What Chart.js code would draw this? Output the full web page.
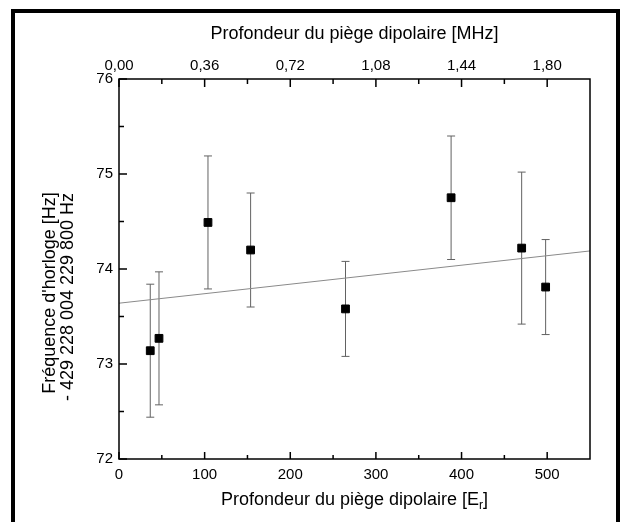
<!DOCTYPE html>
<html>
<head>
<meta charset="utf-8">
<script src="https://cdn.jsdelivr.net/npm/chart.js@4/dist/chart.umd.min.js"></script>
<style>
  html, body { margin: 0; padding: 0; background: #fff; }
  canvas { display: block; }
</style>
</head>
<body>
<canvas id="chart" width="623" height="522"></canvas>
<script>
// Measured points: trap depth [Er] vs clock frequency offset [Hz]
const depthEr = [36.5, 46.7, 103.9, 153.7, 264.5, 387.8, 470.2, 498.2];
const clockHz = [73.14, 73.27, 74.49, 74.20, 73.58, 74.75, 74.22, 73.81];
const clockErr = [0.70, 0.70, 0.70, 0.60, 0.50, 0.65, 0.80, 0.50];

// Linear fit end points
const fitDepth = [0, 550];
const fitClock = [73.64, 74.19];

// Ticks
const xTicks = [0, 100, 200, 300, 400, 500];
const xMinorTicks = [50, 150, 250, 350, 450];
const yTicks = [72, 73, 74, 75, 76];
const yMinorTicks = [72.5, 73.5, 74.5, 75.5];
const mhzTicks = [0, 0.36, 0.72, 1.08, 1.44, 1.80];
const mhzMinorTicks = [0.18, 0.54, 0.90, 1.26, 1.62];

const FONT = 'Liberation Sans, Arial, sans-serif';

/**
 * Plot box, inward ticks, error bars, frame and custom titles
 */
const plotDecor = {
  id: 'plotDecor',
  beforeDatasetsDraw(chart) {
    const { ctx, scales: { x, y } } = chart;
    ctx.save();
    ctx.strokeStyle = '#626262';
    ctx.lineWidth = 1;
    depthEr.forEach((d, i) => {
      const px = x.getPixelForValue(d);
      const top = y.getPixelForValue(clockHz[i] + clockErr[i]);
      const bot = y.getPixelForValue(clockHz[i] - clockErr[i]);
      ctx.beginPath();
      ctx.moveTo(px, top);
      ctx.lineTo(px, bot);
      ctx.moveTo(px - 4, top);
      ctx.lineTo(px + 4, top);
      ctx.moveTo(px - 4, bot);
      ctx.lineTo(px + 4, bot);
      ctx.stroke();
    });
    ctx.restore();
  },
  afterDraw(chart) {
    const { ctx, chartArea: a, scales: { x, x2, y } } = chart;
    ctx.save();
    ctx.strokeStyle = '#000';
    ctx.lineWidth = 1.5;

    // plot box
    ctx.strokeRect(a.left, a.top, a.right - a.left, a.bottom - a.top);

    // inward ticks
    const tick = (px, py, dx, dy) => {
      ctx.moveTo(px, py);
      ctx.lineTo(px + dx, py + dy);
    };
    ctx.beginPath();
    xTicks.forEach((v) => tick(x.getPixelForValue(v), a.bottom, 0, -7));
    xMinorTicks.forEach((v) => tick(x.getPixelForValue(v), a.bottom, 0, -4));
    mhzTicks.forEach((v) => tick(x2.getPixelForValue(v), a.top, 0, 8));
    mhzMinorTicks.forEach((v) => tick(x2.getPixelForValue(v), a.top, 0, 5));
    yTicks.forEach((v) => tick(a.left, y.getPixelForValue(v), 8, 0));
    yMinorTicks.forEach((v) => tick(a.left, y.getPixelForValue(v), 5, 0));
    ctx.stroke();

    // outer frame (open at the bottom)
    ctx.lineWidth = 4;
    ctx.lineJoin = 'miter';
    ctx.beginPath();
    ctx.moveTo(13, 522);
    ctx.lineTo(13, 11);
    ctx.lineTo(618, 11);
    ctx.lineTo(618, 522);
    ctx.stroke();

    // left title, two rotated lines
    ctx.fillStyle = '#000';
    ctx.font = '18px ' + FONT;
    ctx.textAlign = 'center';
    ctx.textBaseline = 'middle';
    ctx.save();
    ctx.translate(50, 293);
    ctx.rotate(-Math.PI / 2);
    ctx.fillText("Fréquence d'horloge [Hz]", 0, 0);
    ctx.restore();
    ctx.save();
    ctx.translate(68, 297);
    ctx.rotate(-Math.PI / 2);
    ctx.fillText('- 429 228 004 229 800 Hz', 0, 0);
    ctx.restore();

    // bottom title with subscript r
    const main = 'Profondeur du piège dipolaire [E';
    ctx.textAlign = 'left';
    ctx.textBaseline = 'alphabetic';
    ctx.font = '18px ' + FONT;
    const wMain = ctx.measureText(main).width;
    const wClose = ctx.measureText(']').width;
    ctx.font = '12px ' + FONT;
    const wSub = ctx.measureText('r').width;
    const total = wMain + wSub + wClose;
    let tx = (a.left + a.right) / 2 - total / 2;
    const ty = 505;
    ctx.font = '18px ' + FONT;
    ctx.fillText(main, tx, ty);
    tx += wMain;
    ctx.font = '12px ' + FONT;
    ctx.fillText('r', tx, ty + 4);
    tx += wSub;
    ctx.font = '18px ' + FONT;
    ctx.fillText(']', tx, ty);

    ctx.restore();
  },
};

const tickFont = { family: FONT, size: 15 };

new Chart(document.getElementById('chart'), {
  type: 'scatter',
  data: {
    datasets: [
      {
        data: depthEr.map((d, i) => ({ x: d, y: clockHz[i] })),
        pointStyle: 'rect',
        pointRadius: 5.5,
        backgroundColor: '#000',
        borderColor: '#000',
        borderWidth: 1,
        order: 1,
      },
      {
        type: 'line',
        data: fitDepth.map((d, i) => ({ x: d, y: fitClock[i] })),
        borderColor: '#8a8a8a',
        borderWidth: 1,
        pointRadius: 0,
        fill: false,
        order: 2,
      },
    ],
  },
  options: {
    responsive: false,
    animation: false,
    devicePixelRatio: 1,
    layout: { padding: { left: 0, right: 33, top: 0, bottom: 0 } },
    plugins: {
      legend: { display: false },
      tooltip: { enabled: false },
    },
    scales: {
      x: {
        type: 'linear',
        position: 'bottom',
        min: 0,
        max: 550,
        afterBuildTicks: (s) => {
          s.ticks = xTicks.map((v) => ({ value: v }));
        },
        afterFit: (s) => {
          s.height = 63;
        },
        grid: { display: false, drawTicks: false },
        border: { display: false },
        ticks: { font: tickFont, color: '#000', padding: 7, maxRotation: 0 },
      },
      x2: {
        type: 'linear',
        position: 'top',
        min: 0,
        max: 1.98,
        afterBuildTicks: (s) => {
          s.ticks = mhzTicks.map((v) => ({ value: v }));
        },
        afterFit: (s) => {
          s.height = 79;
        },
        grid: { display: false, drawTicks: false },
        border: { display: false },
        ticks: {
          font: tickFont,
          color: '#000',
          padding: 4,
          maxRotation: 0,
          callback: (v) => v.toFixed(2).replace('.', ','),
        },
        title: {
          display: true,
          text: 'Profondeur du piège dipolaire [MHz]',
          color: '#000',
          font: { family: FONT, size: 18 },
          padding: { top: 23, bottom: 0 },
        },
      },
      y: {
        type: 'linear',
        position: 'left',
        min: 72,
        max: 76,
        afterBuildTicks: (s) => {
          s.ticks = yTicks.map((v) => ({ value: v }));
        },
        afterFit: (s) => {
          s.width = 119;
        },
        grid: { display: false, drawTicks: false },
        border: { display: false },
        ticks: { font: tickFont, color: '#000', padding: 6 },
      },
    },
  },
  plugins: [plotDecor],
});
</script>
</body>
</html>
